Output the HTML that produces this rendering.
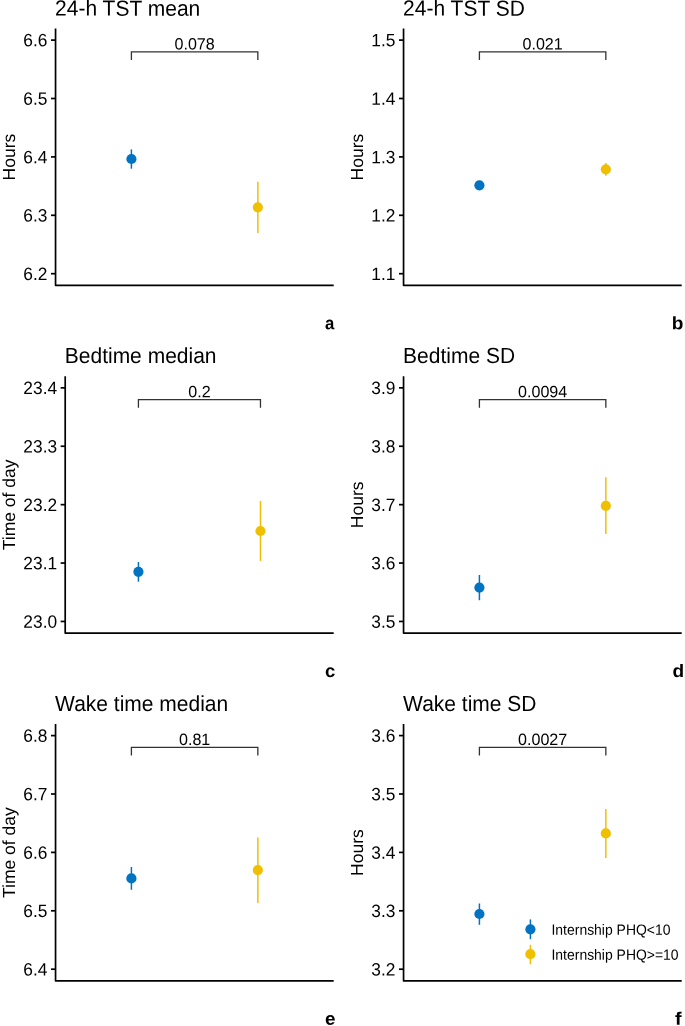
<!DOCTYPE html>
<html><head><meta charset="utf-8"><style>
html,body{margin:0;padding:0;background:#fff;}
svg{display:block;font-family:"Liberation Sans",sans-serif;text-rendering:geometricPrecision;will-change:transform;}
</style></head><body>
<svg width="685" height="1026" viewBox="0 0 685 1026" fill="#000">
<rect width="685" height="1026" fill="#fff"/>
<g transform="translate(0.00,0.00)">
<text transform="translate(55.110,15.600) matrix(1.0,0.0005,0,1.04,0,0)" font-size="21.0">24-h TST mean</text>
<text transform="translate(14.970,157.100) rotate(-90) matrix(1.0,0.0005,0,1.0,0,0)" font-size="17.5" text-anchor="middle">Hours</text>
<path d="M55.55 28.45 V285.3 H333.7" fill="none" stroke="#000" stroke-width="1.7" stroke-linejoin="round"/>
<line x1="51.00" y1="40.10" x2="55.55" y2="40.10" stroke="#000" stroke-width="1.7"/>
<text transform="translate(47.450,46.350) matrix(1.0,0.0005,0,1.03,0,0)" font-size="17.35" text-anchor="end">6.6</text>
<line x1="51.00" y1="98.50" x2="55.55" y2="98.50" stroke="#000" stroke-width="1.7"/>
<text transform="translate(47.450,104.750) matrix(1.0,0.0005,0,1.03,0,0)" font-size="17.35" text-anchor="end">6.5</text>
<line x1="51.00" y1="156.90" x2="55.55" y2="156.90" stroke="#000" stroke-width="1.7"/>
<text transform="translate(47.450,163.150) matrix(1.0,0.0005,0,1.03,0,0)" font-size="17.35" text-anchor="end">6.4</text>
<line x1="51.00" y1="215.30" x2="55.55" y2="215.30" stroke="#000" stroke-width="1.7"/>
<text transform="translate(47.450,221.550) matrix(1.0,0.0005,0,1.03,0,0)" font-size="17.35" text-anchor="end">6.3</text>
<line x1="51.00" y1="273.70" x2="55.55" y2="273.70" stroke="#000" stroke-width="1.7"/>
<text transform="translate(47.450,279.950) matrix(1.0,0.0005,0,1.03,0,0)" font-size="17.35" text-anchor="end">6.2</text>
<path d="M131.41 60.1 V51.9 H257.84 V60.1" fill="none" stroke="#333" stroke-width="1.3"/>
<text transform="translate(194.625,49.600) matrix(1.0,0.0005,0,1.02,0,0)" font-size="16.1" text-anchor="middle">0.078</text>
<line x1="131.41" y1="149.40" x2="131.41" y2="168.70" stroke="#0073C2" stroke-width="1.5" stroke-linecap="butt"/>
<circle cx="131.41" cy="159.00" r="5.1" fill="#0073C2"/>
<line x1="257.84" y1="181.80" x2="257.84" y2="233.10" stroke="#EFC000" stroke-width="1.5" stroke-linecap="butt"/>
<circle cx="257.84" cy="207.30" r="5.1" fill="#EFC000"/>
<text transform="translate(329.650,329.200) matrix(0.93,0.0005,0,1,0,0)" font-size="18" text-anchor="middle" font-weight="bold">a</text>
</g>
<g transform="translate(348.00,0.00)">
<text transform="translate(55.110,15.600) matrix(1.0,0.0005,0,1.04,0,0)" font-size="21.0">24-h TST SD</text>
<text transform="translate(14.970,157.100) rotate(-90) matrix(1.0,0.0005,0,1.0,0,0)" font-size="17.5" text-anchor="middle">Hours</text>
<path d="M55.55 28.45 V285.3 H333.7" fill="none" stroke="#000" stroke-width="1.7" stroke-linejoin="round"/>
<line x1="51.00" y1="40.10" x2="55.55" y2="40.10" stroke="#000" stroke-width="1.7"/>
<text transform="translate(47.450,46.350) matrix(1.0,0.0005,0,1.03,0,0)" font-size="17.35" text-anchor="end">1.5</text>
<line x1="51.00" y1="98.50" x2="55.55" y2="98.50" stroke="#000" stroke-width="1.7"/>
<text transform="translate(47.450,104.750) matrix(1.0,0.0005,0,1.03,0,0)" font-size="17.35" text-anchor="end">1.4</text>
<line x1="51.00" y1="156.90" x2="55.55" y2="156.90" stroke="#000" stroke-width="1.7"/>
<text transform="translate(47.450,163.150) matrix(1.0,0.0005,0,1.03,0,0)" font-size="17.35" text-anchor="end">1.3</text>
<line x1="51.00" y1="215.30" x2="55.55" y2="215.30" stroke="#000" stroke-width="1.7"/>
<text transform="translate(47.450,221.550) matrix(1.0,0.0005,0,1.03,0,0)" font-size="17.35" text-anchor="end">1.2</text>
<line x1="51.00" y1="273.70" x2="55.55" y2="273.70" stroke="#000" stroke-width="1.7"/>
<text transform="translate(47.450,279.950) matrix(1.0,0.0005,0,1.03,0,0)" font-size="17.35" text-anchor="end">1.1</text>
<path d="M131.41 60.1 V51.9 H257.84 V60.1" fill="none" stroke="#333" stroke-width="1.3"/>
<text transform="translate(194.625,49.600) matrix(1.0,0.0005,0,1.02,0,0)" font-size="16.1" text-anchor="middle">0.021</text>
<line x1="131.41" y1="183.60" x2="131.41" y2="187.00" stroke="#0073C2" stroke-width="1.5" stroke-linecap="butt"/>
<circle cx="131.41" cy="185.30" r="5.1" fill="#0073C2"/>
<line x1="257.84" y1="163.00" x2="257.84" y2="175.70" stroke="#EFC000" stroke-width="1.5" stroke-linecap="butt"/>
<circle cx="257.84" cy="169.30" r="5.1" fill="#EFC000"/>
<text transform="translate(329.550,329.200) matrix(1.06,0.0005,0,1,0,0)" font-size="18" text-anchor="middle" font-weight="bold">b</text>
</g>
<g transform="translate(0.00,347.75)">
<text transform="translate(64.760,15.300) matrix(1.0,0.0005,0,1.04,0,0)" font-size="21.0">Bedtime median</text>
<text transform="translate(14.970,157.100) rotate(-90) matrix(1.0,0.0005,0,1.0,0,0)" font-size="17.5" text-anchor="middle">Time of day</text>
<path d="M65.20 28.45 V285.3 H333.7" fill="none" stroke="#000" stroke-width="1.7" stroke-linejoin="round"/>
<line x1="60.65" y1="40.10" x2="65.20" y2="40.10" stroke="#000" stroke-width="1.7"/>
<text transform="translate(57.100,46.350) matrix(1.0,0.0005,0,1.03,0,0)" font-size="17.35" text-anchor="end">23.4</text>
<line x1="60.65" y1="98.50" x2="65.20" y2="98.50" stroke="#000" stroke-width="1.7"/>
<text transform="translate(57.100,104.750) matrix(1.0,0.0005,0,1.03,0,0)" font-size="17.35" text-anchor="end">23.3</text>
<line x1="60.65" y1="156.90" x2="65.20" y2="156.90" stroke="#000" stroke-width="1.7"/>
<text transform="translate(57.100,163.150) matrix(1.0,0.0005,0,1.03,0,0)" font-size="17.35" text-anchor="end">23.2</text>
<line x1="60.65" y1="215.30" x2="65.20" y2="215.30" stroke="#000" stroke-width="1.7"/>
<text transform="translate(57.100,221.550) matrix(1.0,0.0005,0,1.03,0,0)" font-size="17.35" text-anchor="end">23.1</text>
<line x1="60.65" y1="273.70" x2="65.20" y2="273.70" stroke="#000" stroke-width="1.7"/>
<text transform="translate(57.100,279.950) matrix(1.0,0.0005,0,1.03,0,0)" font-size="17.35" text-anchor="end">23.0</text>
<path d="M138.43 60.1 V51.9 H260.47 V60.1" fill="none" stroke="#333" stroke-width="1.3"/>
<text transform="translate(199.450,49.600) matrix(1.0,0.0005,0,1.02,0,0)" font-size="16.1" text-anchor="middle">0.2</text>
<line x1="138.43" y1="214.25" x2="138.43" y2="233.95" stroke="#0073C2" stroke-width="1.5" stroke-linecap="butt"/>
<circle cx="138.43" cy="224.10" r="5.1" fill="#0073C2"/>
<line x1="260.47" y1="153.15" x2="260.47" y2="213.15" stroke="#EFC000" stroke-width="1.5" stroke-linecap="butt"/>
<circle cx="260.47" cy="183.25" r="5.1" fill="#EFC000"/>
<text transform="translate(330.250,329.200) matrix(1.03,0.0005,0,1,0,0)" font-size="18" text-anchor="middle" font-weight="bold">c</text>
</g>
<g transform="translate(348.00,347.75)">
<text transform="translate(55.110,15.300) matrix(1.0,0.0005,0,1.04,0,0)" font-size="21.0">Bedtime SD</text>
<text transform="translate(14.970,157.100) rotate(-90) matrix(1.0,0.0005,0,1.0,0,0)" font-size="17.5" text-anchor="middle">Hours</text>
<path d="M55.55 28.45 V285.3 H333.7" fill="none" stroke="#000" stroke-width="1.7" stroke-linejoin="round"/>
<line x1="51.00" y1="40.10" x2="55.55" y2="40.10" stroke="#000" stroke-width="1.7"/>
<text transform="translate(47.450,46.350) matrix(1.0,0.0005,0,1.03,0,0)" font-size="17.35" text-anchor="end">3.9</text>
<line x1="51.00" y1="98.50" x2="55.55" y2="98.50" stroke="#000" stroke-width="1.7"/>
<text transform="translate(47.450,104.750) matrix(1.0,0.0005,0,1.03,0,0)" font-size="17.35" text-anchor="end">3.8</text>
<line x1="51.00" y1="156.90" x2="55.55" y2="156.90" stroke="#000" stroke-width="1.7"/>
<text transform="translate(47.450,163.150) matrix(1.0,0.0005,0,1.03,0,0)" font-size="17.35" text-anchor="end">3.7</text>
<line x1="51.00" y1="215.30" x2="55.55" y2="215.30" stroke="#000" stroke-width="1.7"/>
<text transform="translate(47.450,221.550) matrix(1.0,0.0005,0,1.03,0,0)" font-size="17.35" text-anchor="end">3.6</text>
<line x1="51.00" y1="273.70" x2="55.55" y2="273.70" stroke="#000" stroke-width="1.7"/>
<text transform="translate(47.450,279.950) matrix(1.0,0.0005,0,1.03,0,0)" font-size="17.35" text-anchor="end">3.5</text>
<path d="M131.41 60.1 V51.9 H257.84 V60.1" fill="none" stroke="#333" stroke-width="1.3"/>
<text transform="translate(194.625,49.600) matrix(1.0,0.0005,0,1.02,0,0)" font-size="16.1" text-anchor="middle">0.0094</text>
<line x1="131.41" y1="227.25" x2="131.41" y2="252.45" stroke="#0073C2" stroke-width="1.5" stroke-linecap="butt"/>
<circle cx="131.41" cy="239.85" r="5.1" fill="#0073C2"/>
<line x1="257.84" y1="129.45" x2="257.84" y2="186.35" stroke="#EFC000" stroke-width="1.5" stroke-linecap="butt"/>
<circle cx="257.84" cy="158.10" r="5.1" fill="#EFC000"/>
<text transform="translate(330.250,329.200) matrix(1.06,0.0005,0,1,0,0)" font-size="18" text-anchor="middle" font-weight="bold">d</text>
</g>
<g transform="translate(0.00,695.50)">
<text transform="translate(55.110,15.400) matrix(1.0,0.0005,0,1.04,0,0)" font-size="21.0">Wake time median</text>
<text transform="translate(14.970,157.100) rotate(-90) matrix(1.0,0.0005,0,1.0,0,0)" font-size="17.5" text-anchor="middle">Time of day</text>
<path d="M55.55 28.45 V285.3 H333.7" fill="none" stroke="#000" stroke-width="1.7" stroke-linejoin="round"/>
<line x1="51.00" y1="40.10" x2="55.55" y2="40.10" stroke="#000" stroke-width="1.7"/>
<text transform="translate(47.450,46.350) matrix(1.0,0.0005,0,1.03,0,0)" font-size="17.35" text-anchor="end">6.8</text>
<line x1="51.00" y1="98.50" x2="55.55" y2="98.50" stroke="#000" stroke-width="1.7"/>
<text transform="translate(47.450,104.750) matrix(1.0,0.0005,0,1.03,0,0)" font-size="17.35" text-anchor="end">6.7</text>
<line x1="51.00" y1="156.90" x2="55.55" y2="156.90" stroke="#000" stroke-width="1.7"/>
<text transform="translate(47.450,163.150) matrix(1.0,0.0005,0,1.03,0,0)" font-size="17.35" text-anchor="end">6.6</text>
<line x1="51.00" y1="215.30" x2="55.55" y2="215.30" stroke="#000" stroke-width="1.7"/>
<text transform="translate(47.450,221.550) matrix(1.0,0.0005,0,1.03,0,0)" font-size="17.35" text-anchor="end">6.5</text>
<line x1="51.00" y1="273.70" x2="55.55" y2="273.70" stroke="#000" stroke-width="1.7"/>
<text transform="translate(47.450,279.950) matrix(1.0,0.0005,0,1.03,0,0)" font-size="17.35" text-anchor="end">6.4</text>
<path d="M131.41 60.1 V51.9 H257.84 V60.1" fill="none" stroke="#333" stroke-width="1.3"/>
<text transform="translate(194.625,49.600) matrix(1.0,0.0005,0,1.02,0,0)" font-size="16.1" text-anchor="middle">0.81</text>
<line x1="131.41" y1="171.50" x2="131.41" y2="194.30" stroke="#0073C2" stroke-width="1.5" stroke-linecap="butt"/>
<circle cx="131.41" cy="182.90" r="5.1" fill="#0073C2"/>
<line x1="257.84" y1="141.90" x2="257.84" y2="207.40" stroke="#EFC000" stroke-width="1.5" stroke-linecap="butt"/>
<circle cx="257.84" cy="174.60" r="5.1" fill="#EFC000"/>
<text transform="translate(330.250,329.200) matrix(1.05,0.0005,0,1,0,0)" font-size="18" text-anchor="middle" font-weight="bold">e</text>
</g>
<g transform="translate(348.00,695.50)">
<text transform="translate(55.110,15.400) matrix(1.0,0.0005,0,1.04,0,0)" font-size="21.0">Wake time SD</text>
<text transform="translate(14.970,157.100) rotate(-90) matrix(1.0,0.0005,0,1.0,0,0)" font-size="17.5" text-anchor="middle">Hours</text>
<path d="M55.55 28.45 V285.3 H333.7" fill="none" stroke="#000" stroke-width="1.7" stroke-linejoin="round"/>
<line x1="51.00" y1="40.10" x2="55.55" y2="40.10" stroke="#000" stroke-width="1.7"/>
<text transform="translate(47.450,46.350) matrix(1.0,0.0005,0,1.03,0,0)" font-size="17.35" text-anchor="end">3.6</text>
<line x1="51.00" y1="98.50" x2="55.55" y2="98.50" stroke="#000" stroke-width="1.7"/>
<text transform="translate(47.450,104.750) matrix(1.0,0.0005,0,1.03,0,0)" font-size="17.35" text-anchor="end">3.5</text>
<line x1="51.00" y1="156.90" x2="55.55" y2="156.90" stroke="#000" stroke-width="1.7"/>
<text transform="translate(47.450,163.150) matrix(1.0,0.0005,0,1.03,0,0)" font-size="17.35" text-anchor="end">3.4</text>
<line x1="51.00" y1="215.30" x2="55.55" y2="215.30" stroke="#000" stroke-width="1.7"/>
<text transform="translate(47.450,221.550) matrix(1.0,0.0005,0,1.03,0,0)" font-size="17.35" text-anchor="end">3.3</text>
<line x1="51.00" y1="273.70" x2="55.55" y2="273.70" stroke="#000" stroke-width="1.7"/>
<text transform="translate(47.450,279.950) matrix(1.0,0.0005,0,1.03,0,0)" font-size="17.35" text-anchor="end">3.2</text>
<path d="M131.41 60.1 V51.9 H257.84 V60.1" fill="none" stroke="#333" stroke-width="1.3"/>
<text transform="translate(194.625,49.600) matrix(1.0,0.0005,0,1.02,0,0)" font-size="16.1" text-anchor="middle">0.0027</text>
<line x1="131.41" y1="208.00" x2="131.41" y2="229.30" stroke="#0073C2" stroke-width="1.5" stroke-linecap="butt"/>
<circle cx="131.41" cy="218.50" r="5.1" fill="#0073C2"/>
<line x1="257.84" y1="113.40" x2="257.84" y2="162.40" stroke="#EFC000" stroke-width="1.5" stroke-linecap="butt"/>
<circle cx="257.84" cy="137.90" r="5.1" fill="#EFC000"/>
<text transform="translate(330.250,329.200) matrix(1.1,0.0005,0,1,0,0)" font-size="18" text-anchor="middle" font-weight="bold">f</text>
</g>
<g>
<line x1="530.4" y1="919.4" x2="530.4" y2="939.2" stroke="#0073C2" stroke-width="1.5" stroke-linecap="butt"/>
<circle cx="530.4" cy="929.3" r="5.1" fill="#0073C2"/>
<line x1="530.4" y1="944.8" x2="530.4" y2="964.3" stroke="#EFC000" stroke-width="1.5" stroke-linecap="butt"/>
<circle cx="530.4" cy="954.2" r="5.1" fill="#EFC000"/>
<text transform="translate(551.500,934.800) matrix(1.0,0.0005,0,1.06,0,0)" font-size="13.95">Internship PHQ&lt;10</text>
<text transform="translate(551.500,959.650) matrix(1.0,0.0005,0,1.06,0,0)" font-size="13.95">Internship PHQ&gt;=10</text>
</g>
</svg>
</body></html>
